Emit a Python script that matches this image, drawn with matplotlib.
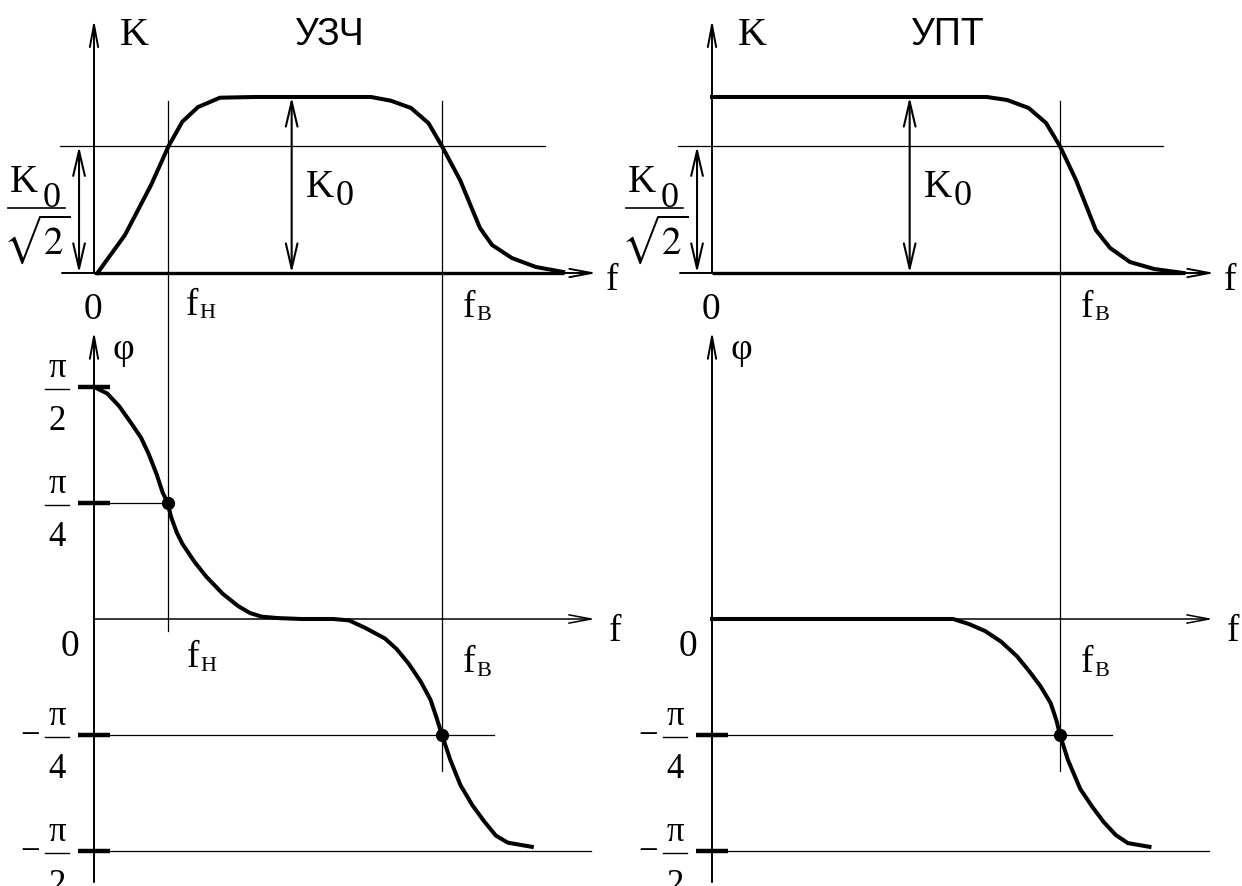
import matplotlib.pyplot as plt

plt.rcParams['font.family'] = ['Liberation Serif', 'DejaVu Serif']
plt.rcParams['mathtext.fontset'] = 'stix'

# frequency in arbitrary units (f_B = 10), K in units of K0, phase in units of pi
f_H = 2.12
f_B = 10.0
K0 = 1.0
K_cut = 0.72          # K0 / sqrt(2) level as drawn

titles = ['УЗЧ', 'УПТ']

freq_k_uzch = [0.1, 0.89, 1.64, 2.14, 2.54, 2.99, 3.62, 4.6, 7.96, 8.53, 9.11,
               9.61, 10.0, 10.52, 11.09, 11.44, 12.01, 12.7, 13.48]
k_uzch = [0.0, 0.216, 0.5, 0.72, 0.86, 0.943, 0.996, 1.0, 1.0, 0.979, 0.9375,
          0.852, 0.72, 0.528, 0.256, 0.159, 0.085, 0.034, 0.006]

freq_k_upt = [0.0, 7.9, 8.48, 9.1, 9.6, 10.0, 10.46, 11.03, 11.44, 12.01, 12.7, 13.55]
k_upt = [1.0, 1.0, 0.983, 0.9375, 0.852, 0.72, 0.528, 0.244, 0.142, 0.0625, 0.023, 0.0]

freq_phi_uzch = [0.0, 0.38, 0.72, 1.06, 1.35, 1.57, 1.80, 1.97, 2.12, 2.21, 2.38,
                 2.54, 2.89, 3.23, 3.69, 4.14, 4.48, 4.82, 5.28, 5.97, 6.88, 7.33,
                 7.79, 8.36, 8.70, 9.04, 9.39, 9.67, 9.84, 10.0, 10.24, 10.53,
                 10.87, 11.21, 11.55, 11.89, 12.58]
phi_uzch = [0.5, 0.486, 0.459, 0.423, 0.391, 0.356, 0.312, 0.273, 0.25, 0.221, 0.186,
            0.162, 0.123, 0.091, 0.055, 0.028, 0.013, 0.005, 0.002, 0.0, 0.0, -0.003,
            -0.019, -0.042, -0.065, -0.096, -0.135, -0.174, -0.212, -0.25, -0.304, -0.358,
            -0.401, -0.436, -0.467, -0.482, -0.491]

freq_phi_upt = [0.0, 6.93, 7.39, 7.85, 8.31, 8.76, 9.1, 9.44, 9.73, 9.9, 10.0,
                10.23, 10.58, 10.92, 11.26, 11.61, 11.95, 12.57]
phi_upt = [0.0, 0.0, -0.011, -0.026, -0.049, -0.08, -0.111, -0.145, -0.181, -0.219, -0.25,
           -0.304, -0.366, -0.404, -0.438, -0.466, -0.483, -0.491]

phi_ticks_uzch = [0.5, 0.25, -0.25, -0.5]
phi_ticks_upt = [-0.25, -0.5]
phi_tick_den = {0.5: '2', 0.25: '4', -0.25: '4', -0.5: '2'}

W, H = 1242, 886
SX = 34.8     # px per frequency unit
SY_K = 176    # px per K0
SY_PHI = 464  # px per pi

fig = plt.figure(figsize=(W / 100, H / 100), dpi=100)

THIN = 0.9
AX_LW = 1.4
CURVE = 2.9


def add_panel(ox, oy, sy, ylim, xlim=(-2.7, 15.2)):
    x0 = ox + SX * xlim[0]
    x1 = ox + SX * xlim[1]
    ytop = oy - sy * ylim[1]
    ybot = oy - sy * ylim[0]
    ax = fig.add_axes([x0 / W, 1 - ybot / H, (x1 - x0) / W, (ybot - ytop) / H])
    ax.set_xlim(xlim)
    ax.set_ylim(ylim)
    ax.axis('off')
    return ax


def arrow(ax, start, tip, style='->,head_length=1.6,head_width=0.3', lw=AX_LW):
    ax.annotate('', xy=tip, xytext=start, annotation_clip=False,
                arrowprops=dict(arrowstyle=style, lw=lw, color='black',
                                shrinkA=0, shrinkB=0, mutation_scale=10))


def sub_text(ax, x, y, main, sub, dy, size=27, subsize=16, dx=0.4):
    ax.text(x, y, main, ha='left', va='baseline', fontsize=size)
    ax.text(x + dx, y - dy, sub, ha='left', va='baseline', fontsize=subsize)


def frac_label(ax, level, den):
    yb = level - 2 / SY_PHI
    ax.plot([-1.41, -0.72], [yb, yb], color='black', lw=1.0, clip_on=False)
    ax.text(-1.065, yb + 12 / SY_PHI, 'π', ha='center', va='baseline', fontsize=25)
    ax.text(-1.065, yb - 41 / SY_PHI, den, ha='center', va='baseline', fontsize=25)
    if level < 0:
        ax.text(-1.83, yb - 8 / SY_PHI, '−', ha='center', va='baseline', fontsize=25)


def span_line(ax_top, ax_bot, f, k_top, phi_bot):
    y_disp = ax_bot.transData.transform((f, phi_bot))[1]
    k_bot = ax_top.transData.inverted().transform((0, y_disp))[1]
    ax_top.plot([f, f], [k_top, k_bot], color='black', lw=THIN, clip_on=False)


cols = [
    (94, titles[0], freq_k_uzch, k_uzch, freq_phi_uzch, phi_uzch, phi_ticks_uzch, True),
    (712, titles[1], freq_k_upt, k_upt, freq_phi_upt, phi_upt, phi_ticks_upt, False),
]

for ox, title, fk, kk, fp, pp, ticks, band in cols:
    ax_k = add_panel(ox, 273, SY_K, (-0.33, 1.55))
    ax_p = add_panel(ox, 619, SY_PHI, (-0.575, 0.62))

    # ---- amplitude response ----
    ax_k.plot([-0.98, 12.96], [K_cut, K_cut], color='black', lw=THIN)
    arrow(ax_k, (0, 0), (0, 1.44))
    arrow(ax_k, (-0.92, 0), (14.45, 0))
    ax_k.plot([0, 13.5], [0, 0], color='black', lw=2.4, solid_capstyle='butt')
    ax_k.plot(fk, kk, color='black', lw=CURVE, solid_joinstyle='round')
    arrow(ax_k, (-0.43, 0), (-0.43, K_cut), style='<->,head_length=1.8,head_width=0.42', lw=1.5)
    arrow(ax_k, (5.68, 0), (5.68, K0), style='<->,head_length=1.8,head_width=0.42', lw=1.5)

    ax_k.text(0.75, 1.295, 'K', ha='left', va='baseline', fontsize=29)
    ax_k.text(6.78, 1.295, title, ha='center', va='baseline', fontsize=27,
              family=['Liberation Sans', 'DejaVu Sans'])
    ax_k.text(14.71, -0.097, 'f', ha='left', va='baseline', fontsize=27)
    ax_k.text(-0.04, -0.26, '0', ha='center', va='baseline', fontsize=27)
    ax_k.text(6.08, 0.432, 'K', ha='left', va='baseline', fontsize=28)
    ax_k.text(6.93, 0.386, '0', ha='left', va='baseline', fontsize=26)
    ax_k.text(-2.41, 0.46, 'K', ha='left', va='baseline', fontsize=28)
    ax_k.text(-1.49, 0.375, '0', ha='left', va='baseline', fontsize=26)
    ax_k.plot([-2.47, -0.83], [0.368, 0.368], color='black', lw=1.2, clip_on=False)
    ax_k.text(-1.65, 0.108, r'$\sqrt{2}$', ha='center', va='baseline', fontsize=28)

    # ---- phase response ----
    arrow(ax_p, (0, -0.567), (0, 0.62))
    arrow(ax_p, (0, 0), (14.4, 0), lw=1.1)
    for lv in ticks:
        ax_p.plot([-0.46, 0.46], [lv, lv], color='black', lw=3.2, solid_capstyle='butt')
        frac_label(ax_p, lv, phi_tick_den[lv])
    if band:
        ax_p.plot([0.46, f_H], [0.25, 0.25], color='black', lw=THIN)
    ax_p.plot([0.46, 11.48], [-0.25, -0.25], color='black', lw=THIN)
    ax_p.plot([0.46, 14.28], [-0.5, -0.5], color='black', lw=THIN)
    ax_p.plot(fp, pp, color='black', lw=CURVE, solid_joinstyle='round')
    if band:
        ax_p.plot([f_H], [0.25], 'o', color='black', ms=8.5)
    ax_p.plot([f_B], [-0.25], 'o', color='black', ms=8.5)

    ax_p.text(0.83, 0.56, 'φ', ha='center', va='baseline', fontsize=27)
    ax_p.text(-0.69, -0.08, '0', ha='center', va='baseline', fontsize=27)
    ax_p.text(14.8, -0.047, 'f', ha='left', va='baseline', fontsize=27)

    # ---- cut-off frequency markers ----
    if band:
        span_line(ax_k, ax_p, f_H, 0.98, -0.026)
        sub_text(ax_k, 2.64, -0.239, 'f', 'H', 3 / SY_K)
        sub_text(ax_p, 2.67, -0.103, 'f', 'H', 4 / SY_PHI)
    span_line(ax_k, ax_p, f_B, 0.975, -0.327)
    sub_text(ax_k, 10.6, -0.25, 'f', 'B', 3 / SY_K)
    sub_text(ax_p, 10.6, -0.115, 'f', 'B', 4 / SY_PHI)

fig.savefig('out.png', dpi=100)
